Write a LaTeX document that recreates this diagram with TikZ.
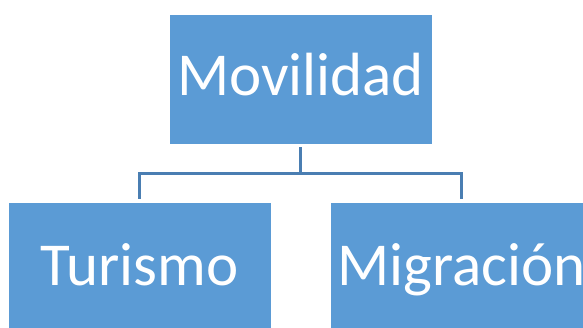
\documentclass[tikz,border=0pt]{standalone}
\usepackage{fontspec}
\setmainfont{Carlito}
\usepackage{tikz}
\usetikzlibrary{positioning}

\definecolor{boxblue}{HTML}{5B9BD5}
\definecolor{lineblue}{HTML}{4A7EB2}

\begin{document}
\begin{tikzpicture}[
x=1pt,y=1pt,
place/.style={
rectangle,
minimum width=263pt,
minimum height=130pt,
draw=white,
line width=0.8pt,
fill=boxblue,
text=white,
font=\fontsize{61}{64}\selectfont,
text height=38.5pt,
text depth=2pt
},
conn/.style={
draw=lineblue,
line width=2.6pt,
shorten <=3pt,
shorten >=3pt
}]

\useasboundingbox (0,0) rectangle (583,327);
\clip (0,0) rectangle (583,327);

\node [place,text depth=6pt] (movil) at (300.5,248) {Movilidad};
\node [place] (turismo) at (139.5,60) {Turismo};
\node [place] (migra) at (461.5,60) {Migración};

\draw[conn] (movil.south) -- ++(0,-29) -| (turismo.north);
\draw[conn] (movil.south) -- ++(0,-29) -| (migra.north);

\end{tikzpicture}
\end{document}
